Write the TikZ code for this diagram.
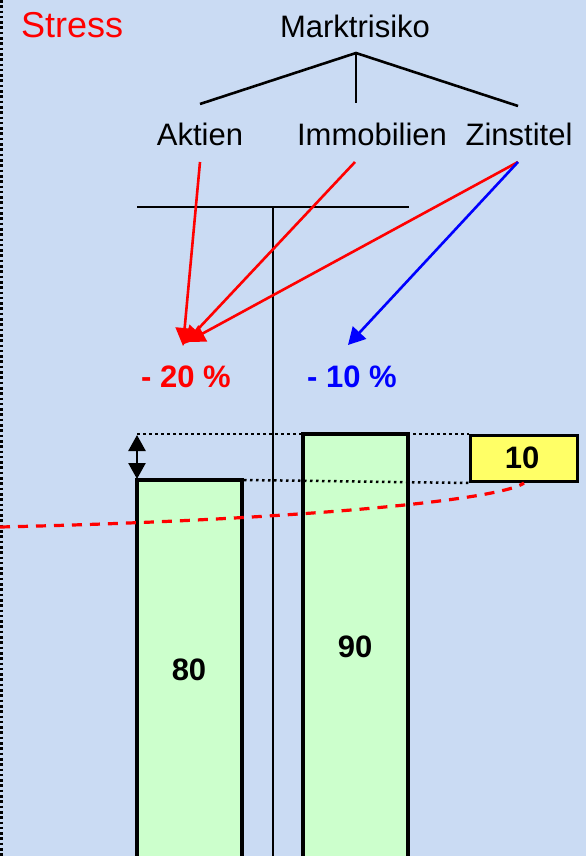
\documentclass[tikz,border=0pt]{standalone}
\usepackage{fontspec}
\setmainfont{Liberation Sans}
\usetikzlibrary{arrows.meta}
\definecolor{bg}{RGB}{202,219,243}
\definecolor{bargreen}{RGB}{204,255,204}
\definecolor{boxyellow}{RGB}{255,255,102}
\begin{document}
\begin{tikzpicture}[x=1pt,y=-1pt,
  lbl/.style={font=\fontsize{31}{37}\selectfont, inner sep=0pt, anchor=base},
  bold/.style={lbl, font=\fontsize{31}{37}\selectfont\bfseries},
  thin/.style={line width=2.6pt, black},
  barline/.style={line width=3.5pt, black},
  redarrow/.style={line width=2.6pt, red, -{Triangle[length=18pt,width=18pt]}},
  bluearrow/.style={line width=2.6pt, blue, -{Triangle[length=17pt,width=18pt]}},
  dotline/.style={line width=2.5pt, black, dash pattern=on 2.5pt off 3.5pt},
  dbl/.style={line width=2.6pt, black, {Triangle[length=16pt,width=17pt]}-{Triangle[length=16pt,width=17pt]}}
]
\fill[bg] (0,0) rectangle (586,856);
\useasboundingbox (0,0) rectangle (586,856);
\draw[line width=3pt, dash pattern=on 2.6pt off 2.7pt] (1.5,0) -- (1.5,856);

% texts
\node[lbl, anchor=base west, text=red, font=\fontsize{36}{43}\selectfont] (stress) at (21,37.5) {Stress};
\node[lbl] (markt) at (355,37.5) {Marktrisiko};
\node[lbl] (aktien) at (200,145) {Aktien};
\node[lbl] (immo) at (372,145) {Immobilien};
\node[lbl] (zins) at (519,145) {Zinstitel};

% tree
\coordinate (apex) at (356,53);
\coordinate (tl) at (200,104);
\coordinate (tm) at (356,103);
\coordinate (tr) at (518,106);
\draw[thin] (tl) -- (apex) -- (tr);
\draw[thin] (apex) -- (tm);

% bars (clipped at bottom)
\begin{scope}
\clip (0,0) rectangle (586,856);
\fill[bargreen] (137,480) rectangle (242,870);
\fill[bargreen] (303,434) rectangle (408,870);
\draw[barline] (137,870) -- (137,480) -- (242,480) -- (242,870);
\draw[barline] (303,870) -- (303,434) -- (408,434) -- (408,870);
\end{scope}

% T structure
\coordinate (hl) at (137,207);
\coordinate (hr) at (409,207);
\coordinate (vt) at (273,207);
\coordinate (vb) at (273,856);
\draw[thin] (hl) -- (hr);
\draw[thin] (vt) -- (vb);

% dotted guide lines and yellow box
\node[draw=black, line width=3pt, fill=boxyellow, minimum width=107pt, minimum height=46pt, inner sep=0pt, anchor=north west] (box) at (469,434) {};
\node[bold] (ten) at (522,468) {10};
\coordinate (d1s) at (137,434);
\coordinate (d2s) at (244,480);
\draw[dotline] (d1s) -- (box.north west);
\draw[dotline] (d2s) -- (box.south west);
\coordinate (da) at (137,435);
\coordinate (db) at (137,479);
\draw[dbl] (da) -- (db);

% arrows
\coordinate (sa) at (200,162);
\coordinate (si) at (355,162);
\coordinate (sz) at (518,162);
\coordinate (ta) at (183,346);
\coordinate (ti) at (184,344);
\coordinate (tz) at (187,342);
\coordinate (tb) at (348,345);
\draw[redarrow] (sa) -- (ta);
\draw[redarrow] (si) -- (ti);
\draw[redarrow] (sz) -- (tz);
\draw[bluearrow] (sz) -- (tb);

\node[bold, text=red] (m20) at (186,387) {- 20 \%};
\node[bold, text=blue] (m10) at (352,387) {- 10 \%};

% bar labels
\node[bold] (v80) at (189,680) {80};
\node[bold] (v90) at (355,657) {90};

% dashed curve
\coordinate (cs) at (0,527);
\draw[red, line width=3.2pt, dash pattern=on 10pt off 8pt] (cs) .. controls (300,520) and (500,500) .. (box.south);
\end{tikzpicture}
\end{document}
